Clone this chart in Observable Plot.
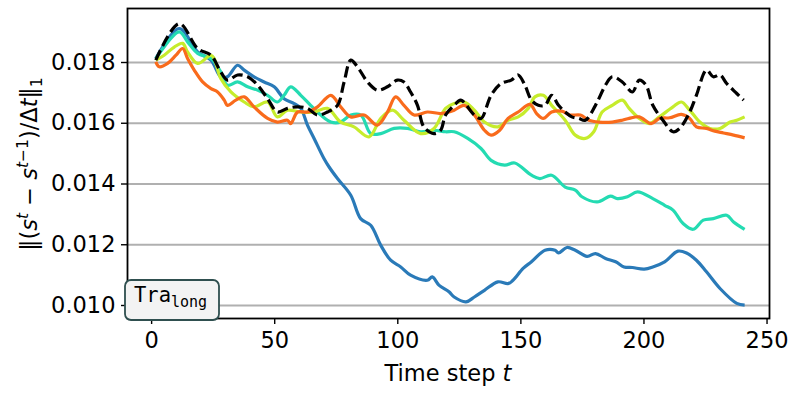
<!DOCTYPE html>
<html><head><meta charset="utf-8">
<script src="https://cdn.jsdelivr.net/npm/d3@7"></script>
<script src="https://cdn.jsdelivr.net/npm/@observablehq/plot@0.6"></script>
<style>body{margin:0;background:#fff;} svg{display:block}</style>
</head><body><div id="chart"></div>
<script>
const tBlue = [1.7,11.2,18.7,24.1,28.1,30.8,34.9,37.6,41.6,45.7,49.8,53.8,57.9,60.6,63.3,66.0,70.0,72.1,75.5,80.9,84.9,89.0,93.1,97.1,101.2,105.2,112.0,114.0,116.7,120.8,122.9,127.7,131.1,135.2,140.7,144.8,146.8,150.9,154.3,159.8,163.9,165.3,168.7,172.1,176.9,180.3,184.4,188.5,191.9,195.3,200.1,203.6,208.4,213.8,217.3,221.3,225.4,230.9,237.7,240.9];
const vBlue = [0.01813,0.01912,0.01835,0.01808,0.01753,0.01753,0.01791,0.01775,0.01753,0.01736,0.01720,0.01681,0.01665,0.01649,0.01594,0.01550,0.01484,0.01456,0.01418,0.01363,0.01286,0.01264,0.01198,0.01149,0.01127,0.01100,0.01083,0.01094,0.01067,0.01045,0.01028,0.01012,0.01028,0.01050,0.01078,0.01072,0.01083,0.01122,0.01144,0.01182,0.01182,0.01173,0.01191,0.01182,0.01162,0.01171,0.01155,0.01144,0.01127,0.01125,0.01120,0.01127,0.01144,0.01179,0.01173,0.01149,0.01111,0.01056,0.01007,0.01001];

const tTeal = [1.7,11.2,14.6,18.7,24.1,28.1,30.8,34.9,39.0,43.0,47.1,51.1,53.8,56.5,60.6,64.6,68.7,72.8,76.8,80.9,85.0,89.0,93.1,98.5,103.9,109.3,114.7,119.4,122.9,128.4,133.8,137.9,143.4,147.5,154.3,157.7,162.5,168.0,172.1,174.8,181.0,186.4,189.2,193.3,197.4,203.6,208.4,211.8,215.9,220.0,224.1,228.2,233.6,236.4,240.9];
const vTeal = [0.01813,0.01901,0.01868,0.01830,0.01813,0.01769,0.01725,0.01736,0.01720,0.01709,0.01692,0.01670,0.01692,0.01720,0.01692,0.01659,0.01627,0.01604,0.01604,0.01627,0.01627,0.01566,0.01566,0.01583,0.01583,0.01572,0.01577,0.01572,0.01572,0.01550,0.01517,0.01478,0.01462,0.01469,0.01429,0.01418,0.01429,0.01390,0.01380,0.01358,0.01341,0.01360,0.01352,0.01358,0.01374,0.01352,0.01330,0.01314,0.01270,0.01251,0.01281,0.01286,0.01297,0.01275,0.01251];

const tLime = [1.7,5.1,9.2,12.6,14.6,18.7,24.1,25.4,28.1,32.2,37.6,41.6,47.1,51.1,55.2,60.6,66.0,71.4,76.8,82.2,88.3,93.1,97.8,102.5,109.3,114.7,119.4,122.9,127.0,131.1,135.2,140.7,144.8,148.9,153.0,155.7,159.1,162.5,168.0,172.1,176.2,179.6,183.0,187.1,191.2,194.0,198.1,202.2,206.3,211.8,215.2,218.6,222.7,226.8,230.9,235.0,237.7,240.9];
const vLime = [0.01808,0.01824,0.01851,0.01863,0.01835,0.01797,0.01824,0.01813,0.01747,0.01703,0.01670,0.01654,0.01670,0.01621,0.01643,0.01637,0.01637,0.01649,0.01604,0.01588,0.01555,0.01616,0.01643,0.01610,0.01566,0.01583,0.01649,0.01665,0.01670,0.01643,0.01604,0.01588,0.01610,0.01621,0.01649,0.01687,0.01692,0.01659,0.01610,0.01561,0.01550,0.01572,0.01637,0.01659,0.01676,0.01649,0.01616,0.01599,0.01621,0.01654,0.01670,0.01643,0.01604,0.01583,0.01583,0.01604,0.01610,0.01621];

const tOrange = [1.7,3.1,6.5,9.9,12.6,14.6,17.3,20.7,24.1,26.8,29.5,30.8,34.2,37.6,41.6,47.1,51.1,55.2,56.5,59.3,63.3,67.4,72.8,76.8,80.9,86.3,91.7,95.8,99.1,102.5,106.6,112.0,117.4,120.8,122.9,127.0,131.1,135.2,137.9,141.4,144.8,148.9,153.7,156.4,159.1,162.5,166.6,170.0,174.2,177.6,181.7,187.1,191.2,194.0,198.1,202.9,206.3,210.4,215.2,218.6,221.3,225.4,228.8,232.3,236.4,240.9];
const vOrange = [0.01802,0.01786,0.01797,0.01824,0.01846,0.01813,0.01775,0.01736,0.01714,0.01703,0.01676,0.01659,0.01676,0.01687,0.01654,0.01616,0.01604,0.01610,0.01599,0.01637,0.01637,0.01654,0.01692,0.01654,0.01621,0.01627,0.01594,0.01637,0.01687,0.01659,0.01627,0.01637,0.01632,0.01637,0.01643,0.01659,0.01627,0.01577,0.01561,0.01577,0.01616,0.01637,0.01662,0.01632,0.01616,0.01637,0.01640,0.01627,0.01627,0.01610,0.01604,0.01604,0.01610,0.01616,0.01621,0.01599,0.01616,0.01618,0.01629,0.01616,0.01588,0.01583,0.01574,0.01568,0.01561,0.01552];

const tBlack = [1.7,11.2,18.7,24.1,28.1,30.8,34.9,39.0,43.0,47.1,51.1,55.2,59.3,63.3,67.4,71.4,75.5,78.2,80.9,83.6,87.7,91.7,95.8,99.8,102.5,105.2,108.0,110.6,114.7,117.4,119.4,122.9,125.6,131.1,133.8,137.9,142.0,146.1,148.9,151.6,154.3,157.1,159.8,162.5,165.3,168.0,170.7,173.5,176.2,180.3,184.4,187.1,191.2,195.3,198.1,200.8,203.6,207.7,211.8,214.5,218.6,221.3,225.4,228.2,230.9,233.6,237.7,240.5];
const vBlack = [0.01808,0.01928,0.01846,0.01824,0.01769,0.01742,0.01759,0.01753,0.01726,0.01681,0.01637,0.01649,0.01654,0.01649,0.01627,0.01637,0.01659,0.01736,0.01808,0.01786,0.01736,0.01709,0.01720,0.01742,0.01736,0.01703,0.01659,0.01588,0.01566,0.01577,0.01627,0.01659,0.01676,0.01627,0.01616,0.01692,0.01731,0.01742,0.01759,0.01726,0.01676,0.01659,0.01659,0.01692,0.01659,0.01637,0.01621,0.01616,0.01610,0.01659,0.01726,0.01753,0.01736,0.01703,0.01742,0.01726,0.01659,0.01610,0.01572,0.01583,0.01637,0.01692,0.01775,0.01753,0.01759,0.01731,0.01698,0.01676];

const xTicks = [0, 50, 100, 150, 200, 250];
const yTicks = [0.010, 0.012, 0.014, 0.016, 0.018];
const xLabel = "Time step ";
const xLabelVar = "t";
const legendMain = "Tra";
const legendSub = "long";

const rows = (t, v) => t.map((d, i) => ({t: d, v: v[i]}));
const lineOpts = {x: "t", y: "v", strokeWidth: 3.2, strokeLinejoin: "round", strokeLinecap: "butt", curve: "catmull-rom"};

const plot = Plot.plot({
  width: 797, height: 399,
  marginLeft: 127, marginRight: 28, marginTop: 8, marginBottom: 81,
  style: {fontFamily: "DejaVu Sans", fontSize: "22.5px", background: "#fff", color: "#000", overflow: "visible"},
  x: {domain: [-9.8, 251]},
  y: {domain: [0.009572, 0.019778]},
  marks: [
    Plot.gridY(yTicks, {stroke: "#b0b0b0", strokeOpacity: 1, strokeWidth: 1.8}),
    Plot.line(rows(tBlue, vBlue), {...lineOpts, stroke: "#2a7ab8"}),
    Plot.line(rows(tTeal, vTeal), {...lineOpts, stroke: "#24dbb2"}),
    Plot.line(rows(tLime, vLime), {...lineOpts, stroke: "#c6ec2c"}),
    Plot.line(rows(tOrange, vOrange), {...lineOpts, stroke: "#f96b1c"}),
    Plot.line(rows(tBlack, vBlack), {...lineOpts, stroke: "#000", strokeDasharray: "11,4.8"}),
    Plot.frame({stroke: "#000", strokeWidth: 1.8}),
    Plot.axisX(xTicks, {tickSize: 6, tickPadding: 8, label: null, tickFormat: d => String(d), strokeWidth: 1.4}),
    Plot.axisY(yTicks, {tickSize: 6, tickPadding: 6, label: null, tickFormat: d3.format(".3f"), strokeWidth: 1.4})
  ]
});

const svg = d3.select(plot);
// x label
const xl = svg.append("text").attr("x", 448).attr("y", 381).attr("text-anchor", "middle")
  .attr("font-family", "DejaVu Sans").attr("font-size", "22.5px").attr("fill", "#000");
xl.append("tspan").text(xLabel);
xl.append("tspan").attr("font-style", "italic").text(xLabelVar);

// y label (math)
const yl = svg.append("text").attr("transform", "translate(37,164) rotate(-90)")
  .attr("text-anchor", "middle").attr("font-family", "DejaVu Sans").attr("font-size", "22.5px").attr("fill", "#000");
const parts = [
  ["‖(", null, 0], ["s", "italic", 0], ["t", "italic", -1], [" − ", null, 0], ["s", "italic", 0],
  ["t", "italic", -1], ["−1", null, -1], [")/Δ", null, 0], ["t", "italic", 0], ["‖", null, 0], ["1", null, 1]
];
let prev = 0;
for (const [txt, st, lvl] of parts) {
  const shift = lvl === -1 ? -9 : lvl === 1 ? 5 : 0;
  const ts = yl.append("tspan").text(txt).attr("dy", shift - prev);
  if (st) ts.attr("font-style", st);
  if (lvl !== 0) ts.attr("font-size", "15.5px");
  prev = shift;
}

// legend box
const lg = svg.append("g");
lg.append("rect").attr("x", 125).attr("y", 280).attr("width", 94).attr("height", 40).attr("rx", 6)
  .attr("fill", "#f3f3f3").attr("stroke", "#2f4f4f").attr("stroke-width", 1.8);
const lt = lg.append("text").attr("x", 134).attr("y", 302).attr("text-anchor", "start")
  .attr("font-family", "DejaVu Sans Mono").attr("fill", "#000");
lt.append("tspan").attr("font-size", "20.5px").text(legendMain);
lt.append("tspan").attr("font-size", "15px").attr("dy", 4.5).text(legendSub);

document.getElementById("chart").appendChild(plot);
</script>
</body></html>
